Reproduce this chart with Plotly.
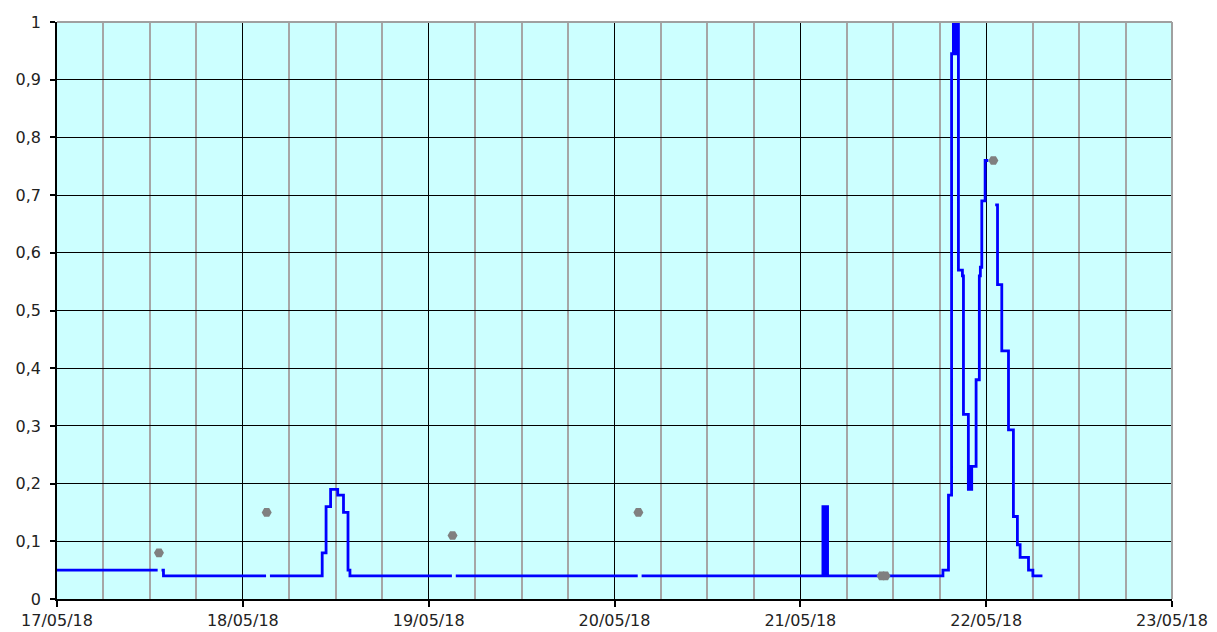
import plotly.graph_objects as go

# Blue step series (None = missing sample)
line_times = [
    "2018-05-17 00:00", "2018-05-17 13:00", "2018-05-17 13:15", "2018-05-17 13:30", "2018-05-17 13:45",
    "2018-05-18 03:00", "2018-05-18 03:15", "2018-05-18 03:30", "2018-05-18 10:15", "2018-05-18 10:45",
    "2018-05-18 11:20", "2018-05-18 12:15", "2018-05-18 13:00", "2018-05-18 13:35", "2018-05-18 13:50",
    "2018-05-19 03:00", "2018-05-19 03:15", "2018-05-19 03:30",
    "2018-05-20 03:00", "2018-05-20 03:15", "2018-05-20 03:30",
    "2018-05-21 02:55", "2018-05-21 03:03", "2018-05-21 03:10", "2018-05-21 03:18", "2018-05-21 03:25",
    "2018-05-21 03:31", "2018-05-21 03:37",
    "2018-05-21 18:25", "2018-05-21 19:08", "2018-05-21 19:32", "2018-05-21 19:46", "2018-05-21 19:53",
    "2018-05-21 20:00", "2018-05-21 20:07", "2018-05-21 20:14", "2018-05-21 20:25", "2018-05-21 20:56",
    "2018-05-21 21:04", "2018-05-21 21:42", "2018-05-21 21:47", "2018-05-21 21:52", "2018-05-21 21:57",
    "2018-05-21 22:02", "2018-05-21 22:08", "2018-05-21 22:42", "2018-05-21 23:07", "2018-05-21 23:15",
    "2018-05-21 23:26", "2018-05-21 23:52", "2018-05-22 00:17", "2018-05-22 00:40",
    "2018-05-22 01:10", "2018-05-22 01:28", "2018-05-22 02:01", "2018-05-22 02:53", "2018-05-22 03:31",
    "2018-05-22 04:02", "2018-05-22 04:23", "2018-05-22 05:28", "2018-05-22 06:02", "2018-05-22 07:16",
]
line_values = [
    0.05, 0.05, None, 0.05, 0.04,
    0.04, None, 0.04, 0.08, 0.16,
    0.19, 0.18, 0.15, 0.05, 0.04,
    0.04, None, 0.04,
    0.04, None, 0.04,
    0.16, 0.04, 0.16, 0.04, 0.16,
    0.04, 0.04,
    0.05, 0.18, 0.945, 1.01, 0.945,
    1.01, 0.945, 1.01, 0.57, 0.56,
    0.32, 0.19, 0.23, 0.19, 0.23,
    0.19, 0.23, 0.38, 0.56, 0.575,
    0.69, 0.76, 0.76, None,
    0.683, 0.545, 0.43, 0.293, 0.143,
    0.094, 0.072, 0.05, 0.04, 0.04,
]

# Grey point series
point_times = [
    "2018-05-17 13:10", "2018-05-18 03:05", "2018-05-19 03:05", "2018-05-20 03:05",
    "2018-05-21 10:30", "2018-05-21 11:00", "2018-05-22 00:56",
]
point_values = [0.08, 0.15, 0.11, 0.15, 0.04, 0.04, 0.76]

x_start = "2018-05-17 00:00"
x_end = "2018-05-23 00:00"

fig = go.Figure()
fig.add_trace(go.Scatter(
    x=line_times, y=line_values, mode="lines",
    line=dict(color="#0000ff", width=2.8, shape="hv"),
    connectgaps=False, showlegend=False,
))
fig.add_trace(go.Scatter(
    x=point_times, y=point_values, mode="markers",
    marker=dict(symbol="hexagon2", size=10, color="#808080"),
    showlegend=False,
))

font = dict(family="DejaVu Sans, Verdana, sans-serif", size=16, color="#222222")

fig.update_layout(
    width=1217, height=632,
    margin=dict(l=57, r=45, t=22, b=33, autoexpand=False),
    paper_bgcolor="white", plot_bgcolor="#ccffff",
    separators=",.",
    font=font,
    xaxis=dict(
        type="date", range=[x_start, x_end], automargin=False,
        tick0=x_start, dtick=86400000, tickformat="%d/%m/%y",
        showgrid=True, gridcolor="#000000", gridwidth=1.3,
        minor=dict(dtick=6 * 3600000, showgrid=True, gridcolor="#a6a6a6", gridwidth=1.8),
        showline=True, linecolor="#000000", linewidth=1.5,
        ticks="outside", ticklen=6, tickcolor="#000000", tickwidth=1.5,
        ticklabelstandoff=0,
        zeroline=False, fixedrange=True,
    ),
    yaxis=dict(
        range=[0, 1], dtick=0.1, tick0=0, automargin=False,
        showgrid=True, gridcolor="#000000", gridwidth=1.3,
        showline=True, linecolor="#000000", linewidth=1.5,
        ticks="outside", ticklen=5, tickcolor="#000000", tickwidth=1.5,
        ticklabelstandoff=6,
        zeroline=False, fixedrange=True,
    ),
    shapes=[
        dict(type="line", xref="paper", yref="paper", x0=0, x1=1, y0=1, y1=1,
             line=dict(color="#a0a0a0", width=2), layer="above"),
        dict(type="line", xref="paper", yref="paper", x0=1, x1=1, y0=0, y1=1,
             line=dict(color="#a0a0a0", width=2), layer="above"),
    ],
)

fig.write_html(
    "out.html",
    config={"displayModeBar": False},
    post_script="document.body.style.margin='0';document.body.style.overflow='hidden';",
)
